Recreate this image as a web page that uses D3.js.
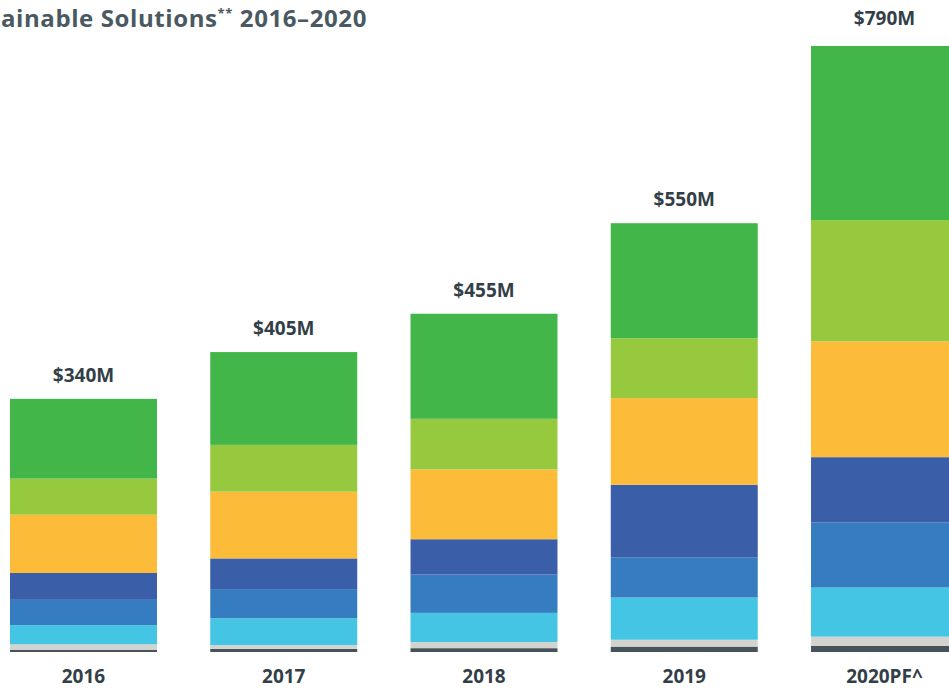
<!DOCTYPE html>
<html>
<head>
<meta charset="utf-8">
<script src="https://cdn.jsdelivr.net/npm/d3@7"></script>
<style>
  html, body { margin: 0; padding: 0; background: #fff; overflow: hidden; }
  text { font-family: "Open Sans", "DejaVu Sans", sans-serif; }
</style>
</head>
<body>
<div id="chart"></div>
<script>
// Sustainable solutions revenue, stacked by segment ($M)

const years = ["2016", "2017", "2018", "2019", "2020PF^"];
const totalLabels = ["$340M", "$405M", "$455M", "$550M", "$790M"];

// segments from bottom to top
const segments = ["s1", "s2", "s3", "s4", "s5", "s6", "s7", "s8"];
const segmentColors = ["#46535a", "#d3d3cf", "#44c5e3", "#367cc0", "#3b5ea9", "#fdbb3a", "#96c93e", "#43b649"];

const s1 = [3, 4, 5, 7, 8];
const s2 = [7, 5, 8, 9, 12];
const s3 = [25, 35, 38, 55, 64];
const s4 = [33, 38, 50, 52, 85];
const s5 = [35, 40, 46, 95, 85];
const s6 = [76, 87, 91, 113, 151];
const s7 = [47, 61, 66, 78, 158];
const s8 = [104, 121, 137, 150, 227];

const width = 949, height = 688;

const svg = d3.select("#chart")
    .append("svg")
    .attr("width", width)
    .attr("height", height);

// build rows for the stack
const series = [s1, s2, s3, s4, s5, s6, s7, s8];
const rows = years.map((yr, i) => {
    const r = {year: yr};
    segments.forEach((k, j) => r[k] = series[j][i]);
    return r;
});

const stacked = d3.stack().keys(segments)(rows);

const x = d3.scaleBand()
    .domain(years)
    .range([10, 958])
    .paddingInner(0.266)
    .paddingOuter(0);

const maxTotal = d3.max(rows, r => d3.sum(segments, k => r[k]));
const y = d3.scaleLinear()
    .domain([0, maxTotal])
    .range([652, 46]);

// bars
svg.append("g")
    .selectAll("g")
    .data(stacked)
    .join("g")
    .attr("fill", (d, i) => segmentColors[i])
    .selectAll("rect")
    .data(d => d)
    .join("rect")
    .attr("x", d => x(d.data.year))
    .attr("y", d => y(d[1]))
    .attr("width", x.bandwidth())
    .attr("height", d => y(d[0]) - y(d[1]));

// total labels above bars
const topLayer = stacked[stacked.length - 1];
svg.append("g")
    .selectAll("text")
    .data(topLayer)
    .join("text")
    .attr("x", d => x(d.data.year) + x.bandwidth() / 2)
    .attr("y", (d, i) => y(d[1]) - (i === 4 ? 21 : 17))
    .attr("text-anchor", "middle")
    .attr("fill", "#333f48")
    .style("font-size", "19px")
    .style("font-weight", "bold")
    .text((d, i) => totalLabels[i]);

// x axis labels
const xAxis = svg.append("g")
    .attr("transform", "translate(0,652)")
    .call(d3.axisBottom(x).tickSize(0).tickPadding(18));
xAxis.select(".domain").remove();
xAxis.selectAll("text")
    .attr("fill", "#333f48")
    .style("font-size", "19px")
    .style("font-weight", "bold")
    .style("font-family", "'Open Sans', sans-serif");

// title (cut off at the left edge, as in the source)
const title = svg.append("text")
    .attr("x", 367)
    .attr("y", 27)
    .attr("text-anchor", "end")
    .attr("fill", "#4a5961")
    .style("font-size", "24px")
    .style("font-weight", "bold")
    .style("letter-spacing", "0.6px");
title.append("tspan").text("Sustainable Solutions");
title.append("tspan").attr("dy", -9).style("font-size", "13px").text("**");
title.append("tspan").attr("dy", 9).text(" 2016\u20132020");
</script>
</body>
</html>
